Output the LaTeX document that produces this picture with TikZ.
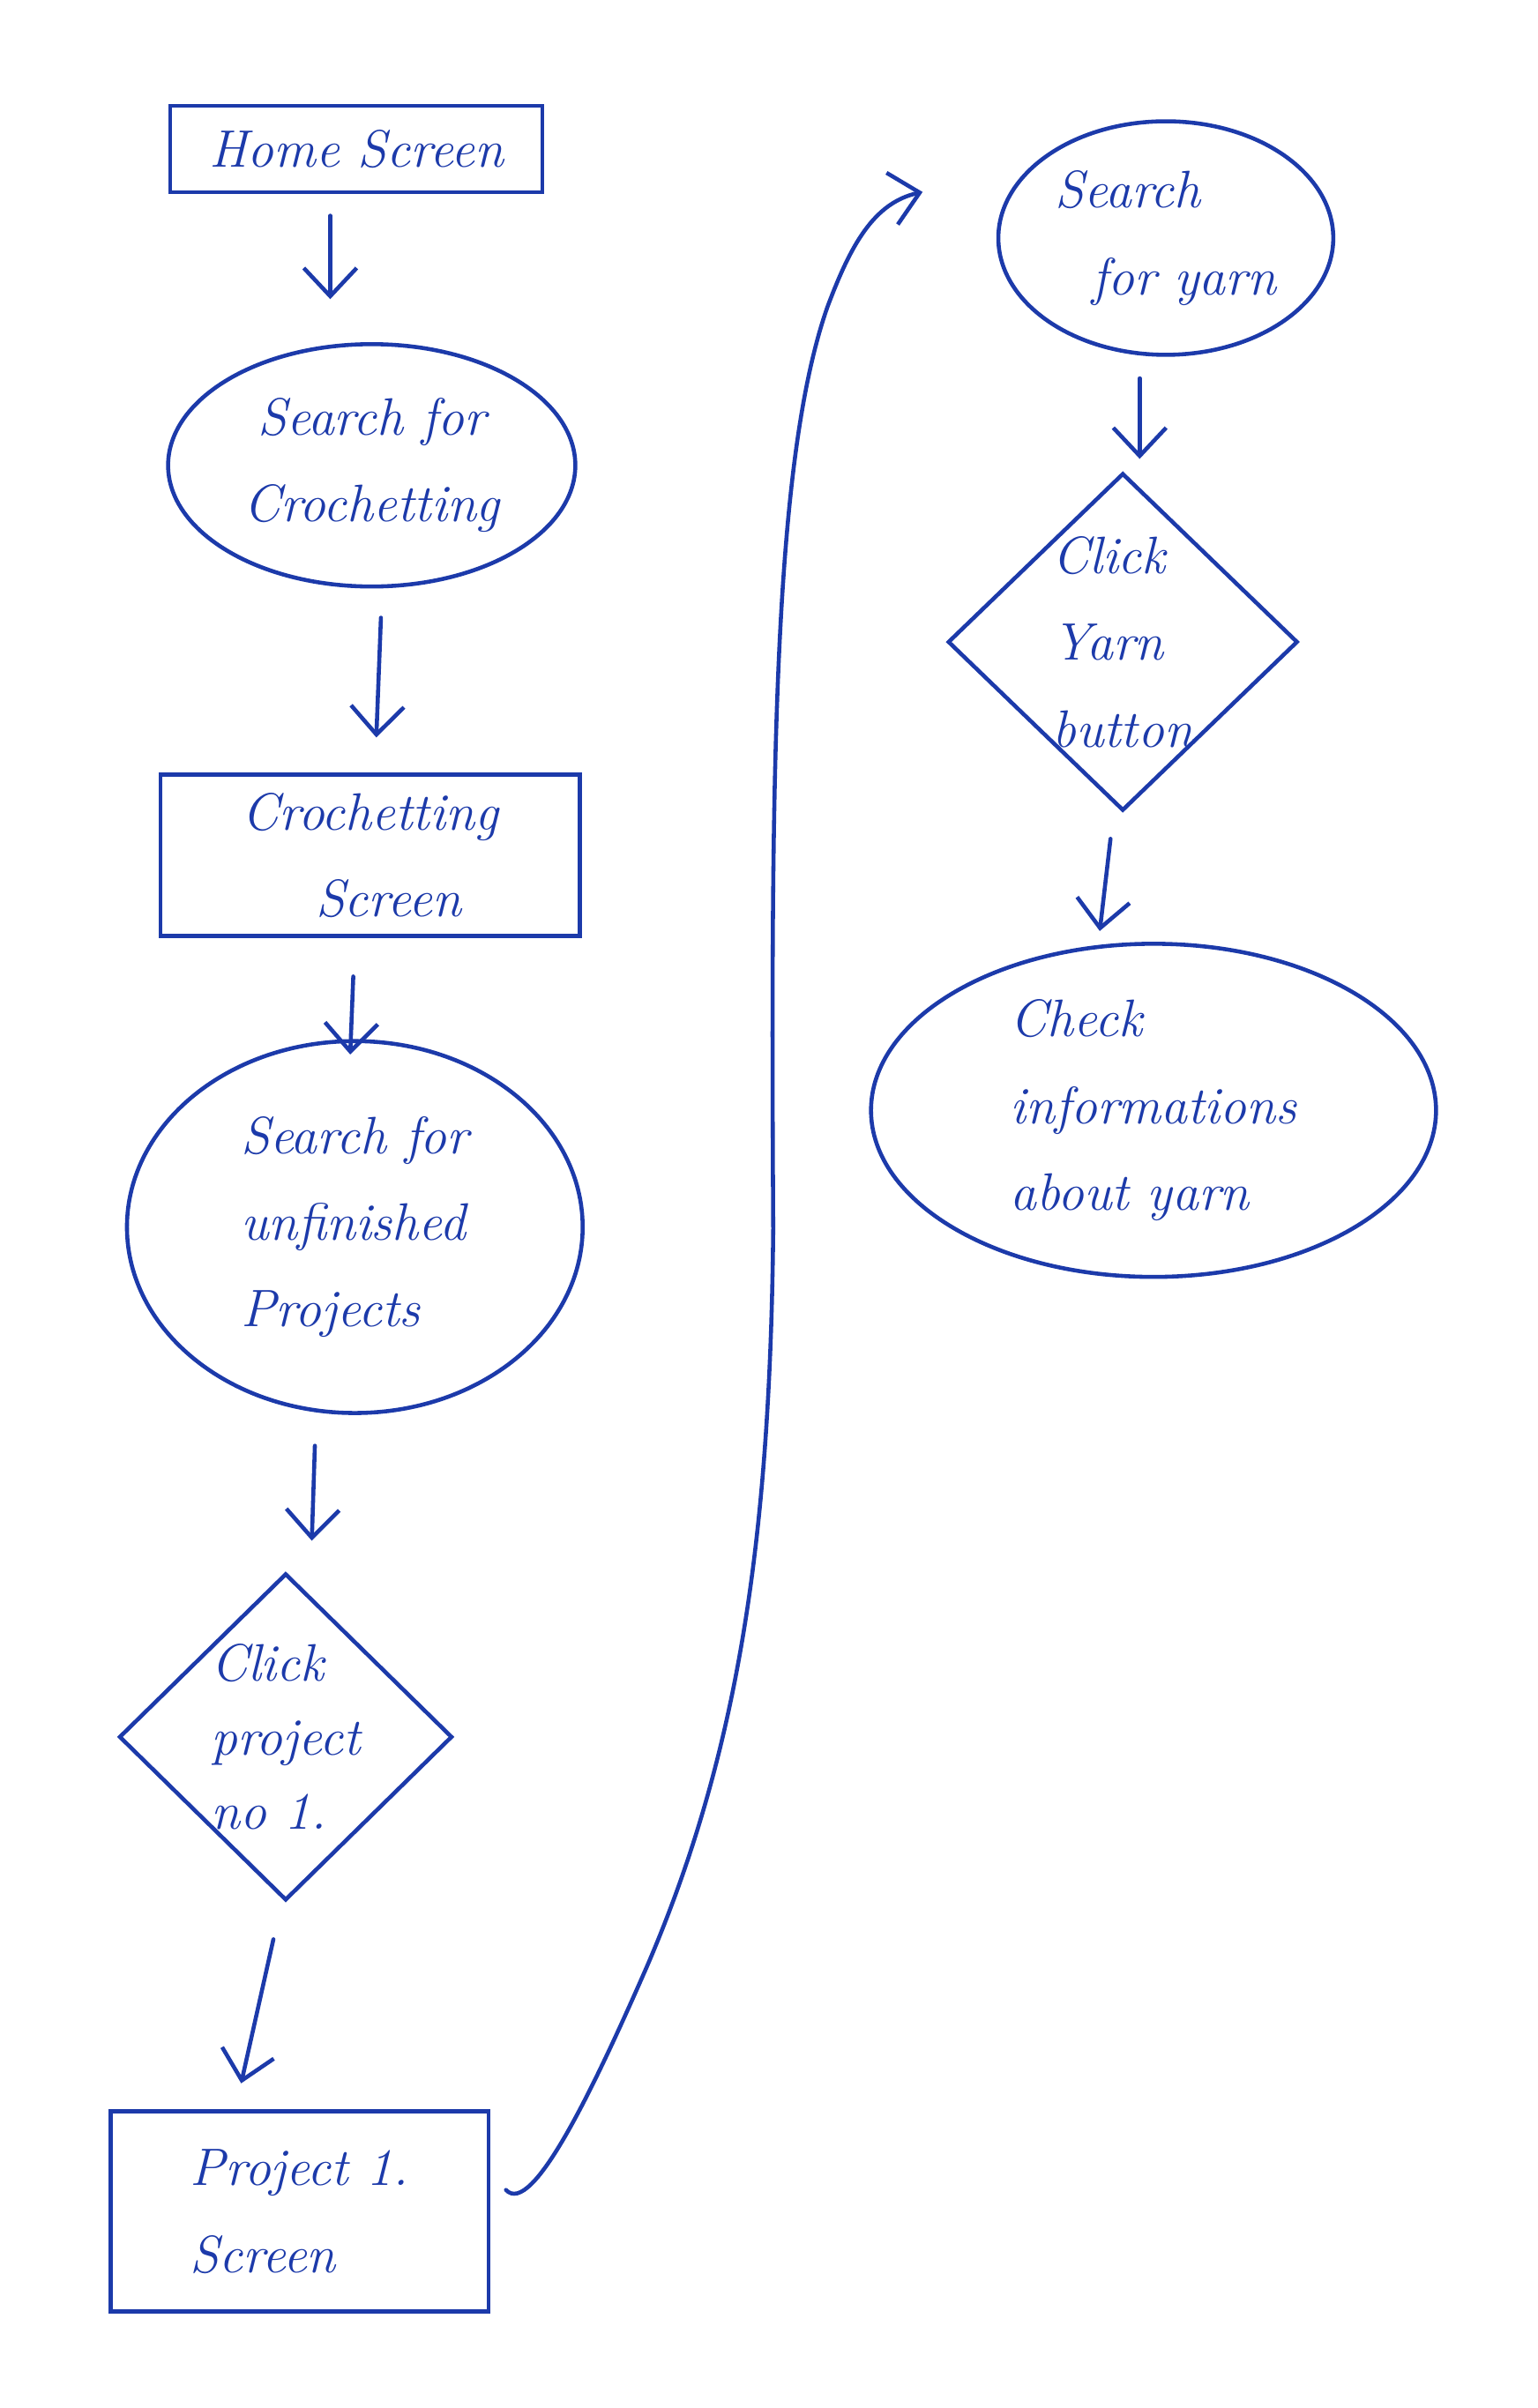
\documentclass[tikz,border=0pt]{standalone}
\usetikzlibrary{arrows.meta,shapes.geometric,calc}
\definecolor{ink}{RGB}{28,58,170}
\begin{document}
\begin{tikzpicture}[x=0.017423cm,y=-0.017423cm,
  txt/.style={text=ink,inner sep=0pt,font=\fontsize{17}{28}\selectfont\itshape,align=left},
  shp/.style={txt,draw=ink,line width=1.3pt},
  boxs/.style={shp,rectangle},
  ell/.style={shp,ellipse},
  dia/.style={shp,diamond},
  arr/.style={draw=ink,line width=1.3pt,line cap=round,
    -{Straight Barb[length=3.2mm,width=6mm,line width=1.3pt]}}]
\fill[white] (0,0) rectangle (1001,1568);
\path[use as bounding box] (0,0) rectangle (1001,1568);

% left column
\node[boxs,minimum width=4.22cm,minimum height=0.98cm] (home) at (232,97) {Home Screen};
\node[ell,align=center,minimum width=4.62cm,minimum height=2.75cm] (e1) at (242,303) {Search for\\Crochetting};
\node[boxs,align=center,minimum width=4.76cm,minimum height=1.83cm] (cbox) at (241,557) {Crochetting\\\ \ Screen};
\node[ell,minimum width=5.17cm,minimum height=4.22cm] (e2) at (231,799) {Search for\\unfinished\\Projects};
\node[dia,minimum width=3.78cm,minimum height=3.71cm,
  label={[txt,font=\fontsize{17}{24}\selectfont\itshape]center:{Click\\project\\no 1.}}] (d1) at (186,1131) {};
\node[boxs,minimum width=4.29cm,minimum height=2.27cm] (p1) at (195,1440) {Project 1.\hspace{1.2cm}\\Screen};

% right column
\node[ell,minimum width=3.80cm,minimum height=2.65cm] (yarn) at (759,155) {Search\\\ \ for yarn};
\node[dia,minimum width=3.97cm,minimum height=3.83cm,
  label={[txt]center:{Click\\Yarn\\button}}] (d2) at (731,418) {};
\node[ell,minimum width=6.41cm,minimum height=3.78cm] (chk) at (751,723) {Check\\informations\\about yarn};

% connectors
\draw[arr] ($(home.south)+(-17,14)$) -- ($(e1.north)+(-27,-28)$);
\draw[arr] ($(e1.south)+(6,19)$) -- ($(cbox.north)+(4,-23)$);
\draw[arr] ($(cbox.south)+(-11,25)$) -- ($(e2.north)+(-3,10)$);
\draw[arr] ($(e2.south)+(-26,20)$) -- ($(d1.north)+(17,-20)$);
\draw[arr] ($(d1.south)+(-8,24)$) -- ($(p1.north)+(-38,-17)$);
\draw[arr] ($(p1.east)+(10,-14)$)
  .. controls ($(p1.east)+(27,4)$) and ($(p1.east)+(67,-80)$) .. ($(p1.east)+(102,-160)$)
  .. controls ($(p1.east)+(162,-300)$) and ($(p1.east)+(182,-440)$) .. ($(p1.east)+(184,-640)$)
  .. controls ($(yarn.west)+(-147,345)$) and ($(yarn.west)+(-145,145)$) .. ($(yarn.west)+(-110,45)$)
  .. controls ($(yarn.west)+(-95,5)$) and ($(yarn.west)+(-80,-23)$) .. ($(yarn.west)+(-48,-30)$);
\draw[arr] ($(yarn.south)+(-17,14)$) -- ($(d2.north)+(11,-8)$);
\draw[arr] ($(d2.south)+(-8,17)$) -- ($(chk.north)+(-35,-7)$);
\end{tikzpicture}
\end{document}
